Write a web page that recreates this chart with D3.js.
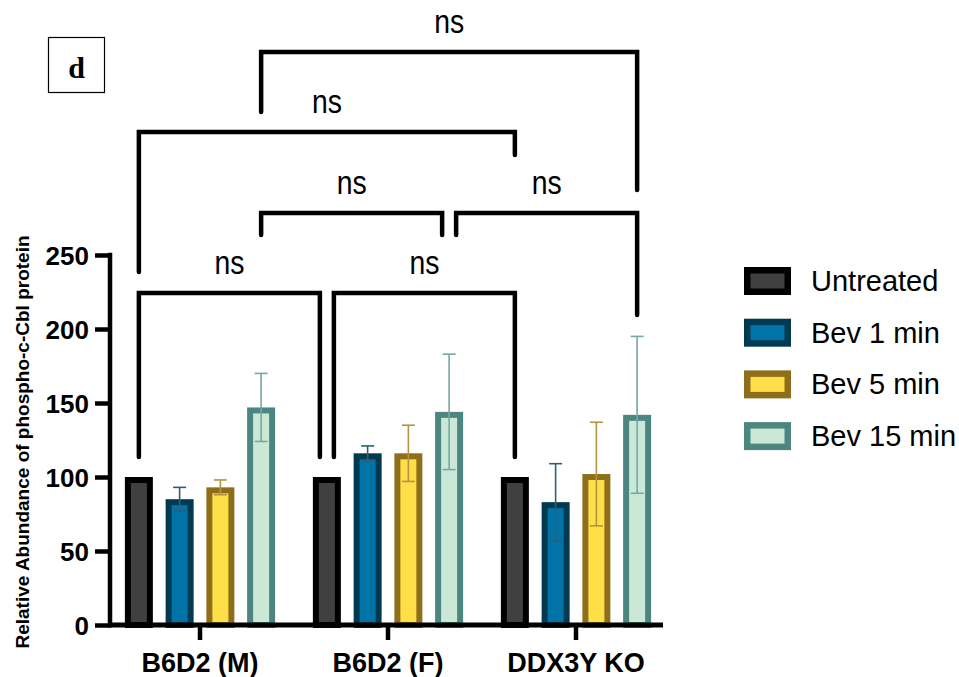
<!DOCTYPE html>
<html>
<head>
<meta charset="utf-8">
<script src="https://cdn.jsdelivr.net/npm/d3@7"></script>
<style>
  html, body { margin: 0; padding: 0; background: #ffffff; }
  svg { display: block; }
</style>
</head>
<body>
<svg id="chart" width="959" height="677"></svg>
<script>
// ---- data ----
const groups = ["B6D2 (M)", "B6D2 (F)", "DDX3Y KO"];
const series = ["Untreated", "Bev 1 min", "Bev 5 min", "Bev 15 min"];
// mean values per series, one entry per group
const untreatedMean = [100, 100, 100];
const bev1Mean = [85, 116, 83];
const bev5Mean = [93, 116, 102];
const bev15Mean = [147, 144, 142];
// standard deviations (untreated is the normalisation reference, no error)
const untreatedSD = [0, 0, 0];
const bev1SD = [8, 5, 26];
const bev5SD = [5, 19, 35];
const bev15SD = [23, 39, 53];
const yTicks = [0, 50, 100, 150, 200, 250];
// pairwise comparisons: [group index, series index] of both ends, and result
const comparisons = [
  { a: [0, 0], b: [1, 0], label: "ns" },
  { a: [1, 0], b: [2, 0], label: "ns" },
  { a: [0, 3], b: [1, 3], label: "ns" },
  { a: [1, 3], b: [2, 3], label: "ns" },
  { a: [0, 0], b: [2, 0], label: "ns" },
  { a: [0, 3], b: [2, 3], label: "ns" }
];

const means = [untreatedMean, bev1Mean, bev5Mean, bev15Mean];
const sds = [untreatedSD, bev1SD, bev5SD, bev15SD];

// ---- styling ----
const strokeCol = ["#000000", "#003a50", "#8e6e1a", "#4b8780"];
const fillCol = ["#404040", "#0073a8", "#ffdf47", "#cbe8d7"];
const errCol = ["#000000", "#2e5f74", "#b39441", "#72a9a3"];
const FONT = "'Liberation Sans', Arial, Helvetica, sans-serif";

const svg = d3.select("#chart");

// ---- scales ----
const y = d3.scaleLinear().domain([0, 250]).range([625, 255]);
const x0 = d3.scaleBand().domain(groups).range([106, 670]);
const x1 = d3.scaleBand().domain(series)
  .range([12.5, x0.bandwidth() - 12.5])
  .paddingInner(0.313).paddingOuter(0.1565);

const barRows = [];
groups.forEach((g, gi) => {
  series.forEach((s, si) => {
    barRows.push({ g, gi, s, si, v: means[si][gi], sd: sds[si][gi] });
  });
});

const bw = x1.bandwidth();
const sw = 6;
const cx = (gi, si) => x0(groups[gi]) + x1(series[si]) + bw / 2;

// ---- bars (border drawn inside the bar outline) ----
svg.append("g").selectAll("rect").data(barRows).join("rect")
  .attr("x", d => x0(d.g) + x1(d.s) + sw / 2)
  .attr("y", d => y(d.v) + sw / 2)
  .attr("width", bw - sw)
  .attr("height", d => y(0) - y(d.v) - sw / 2)
  .attr("fill", d => fillCol[d.si])
  .attr("stroke", d => strokeCol[d.si])
  .attr("stroke-width", sw);

// ---- error bars ----
const eg = svg.append("g").attr("stroke-width", 1.6).attr("fill", "none");
barRows.filter(d => d.sd > 0).forEach(d => {
  const c = cx(d.gi, d.si);
  const top = y(d.v + d.sd), bot = y(d.v - d.sd);
  const col = errCol[d.si];
  eg.append("line").attr("x1", c).attr("x2", c).attr("y1", top).attr("y2", bot).attr("stroke", col);
  eg.append("line").attr("x1", c - 6.5).attr("x2", c + 6.5).attr("y1", top).attr("y2", top).attr("stroke", col);
  eg.append("line").attr("x1", c - 6.5).attr("x2", c + 6.5).attr("y1", bot).attr("y2", bot).attr("stroke", col);
});

// ---- axes ----
const yAxis = svg.append("g")
  .attr("transform", "translate(110,0)")
  .call(d3.axisLeft(y).tickValues(yTicks).tickSize(15).tickPadding(6));
yAxis.select(".domain").remove();
yAxis.selectAll(".tick line").attr("stroke", "#000").attr("stroke-width", 4.5);
yAxis.selectAll(".tick text")
  .attr("font-family", FONT).attr("font-weight", "bold").attr("font-size", 26)
  .attr("fill", "#000").attr("dy", "0.36em");
svg.append("line").attr("x1", 110).attr("x2", 110)
  .attr("y1", y(250) - 2.25).attr("y2", y(0) + 2.5)
  .attr("stroke", "#000").attr("stroke-width", 4.5);

const xAxis = svg.append("g")
  .attr("transform", "translate(0,625)")
  .call(d3.axisBottom(x0).tickSize(15).tickPadding(0));
xAxis.select(".domain").remove();
xAxis.selectAll(".tick line").attr("stroke", "#000").attr("stroke-width", 4.5);
xAxis.selectAll(".tick text")
  .attr("font-family", FONT).attr("font-weight", "bold").attr("font-size", 27)
  .attr("fill", "#000").attr("dy", null).attr("y", 47);
svg.append("line").attr("x1", 108).attr("x2", 663)
  .attr("y1", y(0)).attr("y2", y(0))
  .attr("stroke", "#000").attr("stroke-width", 5);

// y-axis title
svg.append("text")
  .attr("transform", "translate(29,442) rotate(-90)")
  .attr("text-anchor", "middle")
  .attr("font-family", FONT).attr("font-weight", "bold").attr("font-size", 19)
  .attr("fill", "#000")
  .text("Relative Abundance of phospho-c-Cbl protein");

// ---- significance brackets ----
// level of the horizontal bar and end of each leg (in axis units), leg x shift
const bracketLayout = [
  { level: 224.3, legA: 113.5, legB: 113.5, dxA: 0, dxB: -7 },
  { level: 224.3, legA: 113.5, legB: 113.5, dxA: 7, dxB: 0 },
  { level: 278.4, legA: 263.5, legB: 263.5, dxA: 0, dxB: -7 },
  { level: 278.4, legA: 263.5, legB: 209.5, dxA: 7, dxB: 0 },
  { level: 333.1, legA: 238.5, legB: 317.6, dxA: 0, dxB: 0 },
  { level: 387.2, legA: 346.6, legB: 293.9, dxA: 0, dxB: 0 }
];
const bg = svg.append("g");
comparisons.forEach((c, i) => {
  const L = bracketLayout[i];
  const xa = cx(c.a[0], c.a[1]) + L.dxA;
  const xb = cx(c.b[0], c.b[1]) + L.dxB;
  const yl = y(L.level);
  bg.append("path")
    .attr("d", `M${xa},${y(L.legA)}V${yl}H${xb}V${y(L.legB)}`)
    .attr("fill", "none").attr("stroke", "#000").attr("stroke-width", 4.5)
    .attr("stroke-linejoin", "miter").attr("stroke-linecap", "round");
  bg.append("text")
    .attr("x", (xa + xb) / 2).attr("y", yl - 19)
    .attr("text-anchor", "middle")
    .attr("font-family", FONT).attr("font-size", 33)
    .attr("textLength", 30).attr("lengthAdjust", "spacingAndGlyphs")
    .attr("fill", "#000")
    .text(c.label);
});

// ---- legend ----
const lg = svg.append("g").attr("transform", "translate(744,267)");
series.forEach((s, i) => {
  const row = lg.append("g").attr("transform", `translate(0,${i * 51.7})`);
  row.append("rect")
    .attr("x", 3.25).attr("y", 3.25).attr("width", 47 - 6.5).attr("height", 28 - 6.5)
    .attr("fill", fillCol[i]).attr("stroke", strokeCol[i]).attr("stroke-width", 6.5);
  row.append("text")
    .attr("x", 67).attr("y", 24)
    .attr("font-family", FONT).attr("font-size", 29).attr("fill", "#000")
    .text(s);
});

// ---- panel tag ----
svg.append("rect").attr("x", 48.5).attr("y", 37.5).attr("width", 56).attr("height", 55)
  .attr("fill", "#fff").attr("stroke", "#000").attr("stroke-width", 1.2);
svg.append("text").attr("x", 76.5).attr("y", 78)
  .attr("text-anchor", "middle")
  .attr("font-family", "'Liberation Serif', 'Times New Roman', serif")
  .attr("font-weight", "bold").attr("font-size", 30).attr("fill", "#000")
  .text("d");
</script>
</body>
</html>
